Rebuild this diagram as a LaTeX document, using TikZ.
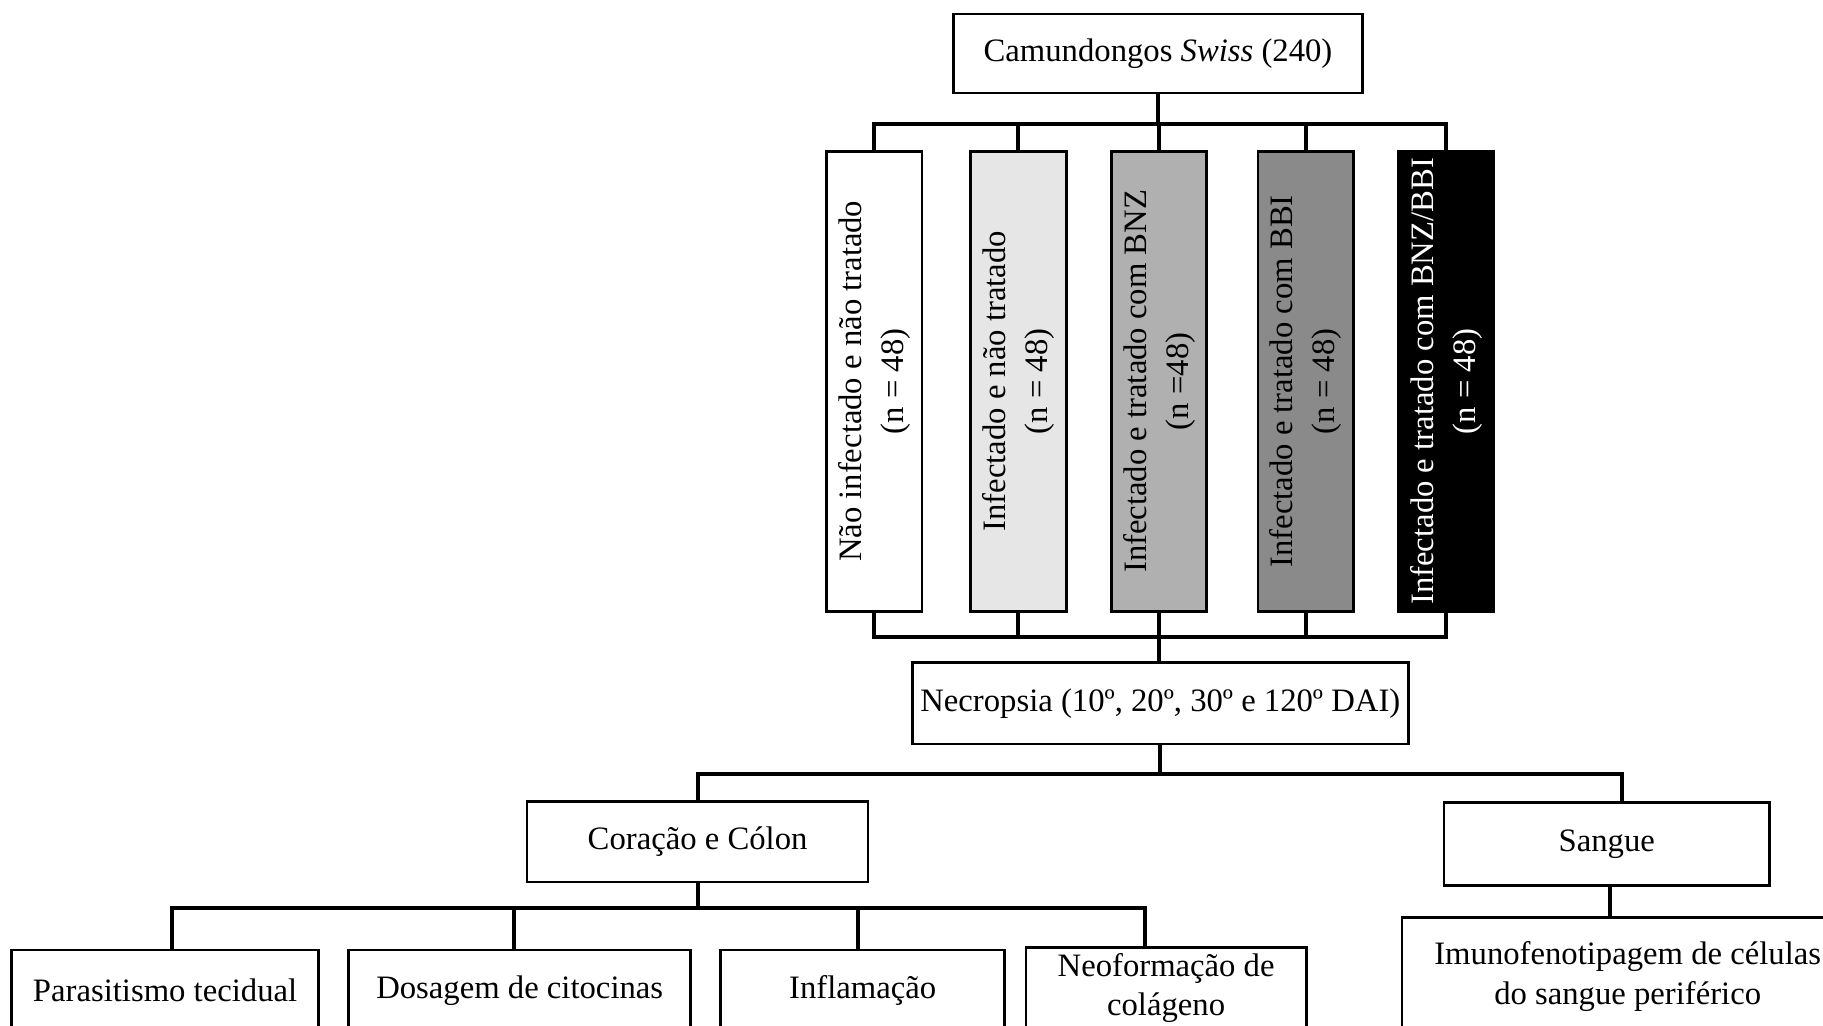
\documentclass[tikz,border=0pt]{standalone}
\usepackage{fontspec}
\setmainfont{Liberation Serif}
\usepackage{tikz}
\usetikzlibrary{arrows.meta, positioning}
\usepackage{xcolor}
\definecolor{lightgrp}{HTML}{E6E6E6}
\definecolor{midgrp}{HTML}{B0B0B0}
\definecolor{darkgrp}{HTML}{8A8A8A}
\tikzset{%
	flow box/.style={
		rectangle,
		draw,
		line width=1pt,
		fill=white,
		align=center,
		inner sep=2pt,
		font=\fontsize{12}{14.5}\selectfont
	},
	group box/.style={
		flow box,
		rotate=90,
		minimum width=59.4mm,
		minimum height=12.3mm,
		font=\fontsize{12}{15.5}\selectfont
	},
	bottom box/.style={
		flow box,
		minimum height=10.5mm
	},
	link/.style={
		line width=1.45pt
	},
}
\begin{document}
\begin{tikzpicture}[x=0.15mm, y=-0.15mm]
	\useasboundingbox (0,0) rectangle (1568,882);
	\clip (0,0) rectangle (1568,882);

	% Draw the top box
	\node[flow box, minimum width=52.8mm, minimum height=10.2mm] (cam) at (996,46) {Camundongos \textit{Swiss} (240)};

	% Draw the five groups
	\node[group box] (g1) at (752,328) {Não infectado e não tratado\\(n = 48)};
	\node[group box, fill=lightgrp] (g2) at (876,328) {Infectado e não tratado\\(n = 48)};
	\node[group box, fill=midgrp] (g3) at (997,328) {Infectado e tratado com BNZ\\(n =48)};
	\node[group box, fill=darkgrp] (g4) at (1123,328) {Infectado e tratado com BBI\\(n = 48)};
	\node[group box, fill=black, text=white] (g5) at (1244,328) {Infectado e tratado com BNZ/BBI\\(n = 48)};

	% Draw the necropsy box
	\node[flow box, minimum width=64mm, minimum height=10.5mm] (nec) at (998,605) {Necropsia (10º, 20º, 30º e 120º DAI)};

	% Draw the organ boxes
	\node[flow box, minimum width=44mm, minimum height=10.35mm] (cc) at (600,724) {Coração e Cólon};
	\node[flow box, minimum width=42mm, minimum height=10.65mm] (sg) at (1382,726) {Sangue};

	% Draw the bottom row
	\node[bottom box, minimum width=39.6mm] (par) at (142,852) {Parasitismo tecidual};
	\node[bottom box, minimum width=44.1mm] (dos) at (447,852) {Dosagem de citocinas};
	\node[bottom box, minimum width=36.6mm] (inf) at (742,852) {Inflamação};
	\node[bottom box, minimum width=36.15mm] (neo) at (1003,850) {Neoformação de\\colágeno};
	\node[bottom box, minimum width=58.2mm, minimum height=15.3mm] (imu) at (1400,840) {Imunofenotipagem de células\\do sangue periférico};

	% Draw the group connectors
	\coordinate (top bus) at (997,107);
	\coordinate (low bus) at (997,548);
	\draw[link] (cam.south) -- (cam.south |- top bus);
	\foreach \g in {g1,g2,g3,g4,g5}{
		\draw[link] (\g.east) |- (top bus);
		\draw[link] (\g.west) |- (low bus);
	}
	\draw[link] (low bus) -- (low bus |- nec.north);

	% Draw the organ connectors
	\coordinate (nec bus) at (998,666);
	\draw[link] (nec.south) -- (nec bus);
	\draw[link] (cc.north) |- (nec bus);
	\draw[link] ([xshift=2mm]sg.north) |- (nec bus);

	% Draw the analysis connectors
	\coordinate (cc bus) at (600,781);
	\draw[link] (cc.south) -- (cc bus);
	\draw[link] ([xshift=0.9mm]par.north) |- (cc bus);
	\draw[link] ([xshift=-0.75mm]dos.north) |- (cc bus);
	\draw[link] ([xshift=-0.6mm]inf.north) |- (cc bus);
	\draw[link] ([xshift=-2.7mm]neo.north) |- (cc bus);
	\draw[link] ([xshift=0.45mm]sg.south) -- ([xshift=0.45mm]sg.south |- imu.north);
\end{tikzpicture}
\end{document}
